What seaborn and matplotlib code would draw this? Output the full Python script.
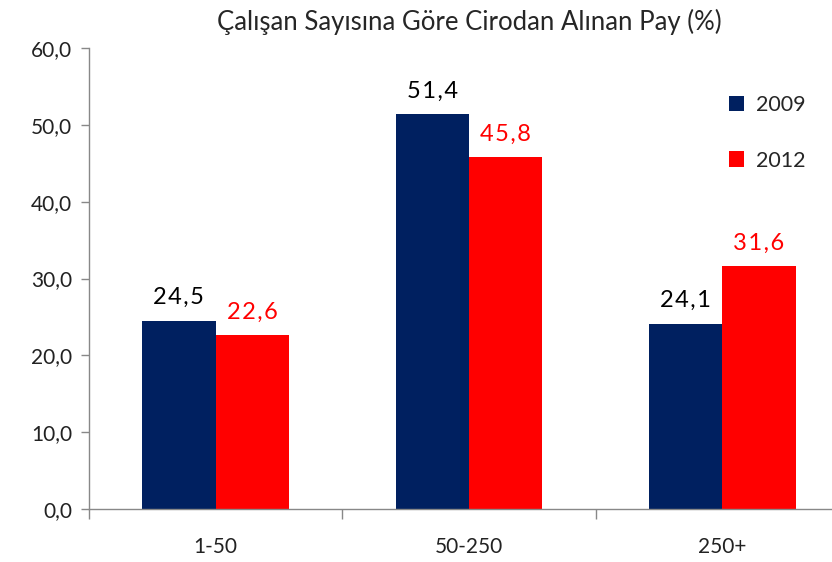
import pandas as pd
import matplotlib.pyplot as plt
import seaborn as sns
from matplotlib.ticker import FixedLocator

# data
categories = ['1-50', '50-250', '250+']
years = ['2009', '2012']
values_2009 = [24.5, 51.4, 24.1]
values_2012 = [22.6, 45.8, 31.6]

df = pd.DataFrame({
    'grup': categories * 2,
    'yil': [years[0]] * 3 + [years[1]] * 3,
    'pay': values_2009 + values_2012,
})

sns.set_style('white')
plt.rcParams['font.family'] = ['Lato', 'DejaVu Sans']

colors = {'2009': '#002060', '2012': '#FF0000'}
label_colors = {'2009': 'black', '2012': '#FF0000'}

fig = plt.figure(figsize=(8.32, 5.62), dpi=100)
ax = fig.add_axes([89 / 832, 53 / 562, 743 / 832, 461 / 562])

sns.barplot(data=df, x='grup', y='pay', hue='yil', palette=colors,
            width=0.58, saturation=1, linewidth=0, ax=ax, legend=True)

# value labels, slightly letter-spaced like the original
for cont, yr in zip(ax.containers, years):
    labels = ['\u200a'.join(f'{v:.1f}'.replace('.', ',')) for v in cont.datavalues]
    ax.bar_label(cont, labels=labels, padding=9, fontsize=17,
                 color=label_colors[yr])

ax.set_ylim(0, 60)
ax.set_xlim(-0.5, 2.5 - 17 / 253)
ax.set_yticks(range(0, 61, 10))
ax.set_yticklabels([f'{v},0' for v in range(0, 61, 10)], fontsize=15, color='#222222')
ax.tick_params(axis='y', length=6, width=1, color='#888888', direction='out', pad=6, left=True)
ax.tick_params(axis='x', which='major', length=0, labelsize=15, labelcolor='#222222', pad=20)
ax.xaxis.set_minor_locator(FixedLocator([-0.5, 0.5, 1.5, 2.5]))
ax.tick_params(axis='x', which='minor', length=7, width=1, color='#888888', direction='out', bottom=True)

for s in ['top', 'right']:
    ax.spines[s].set_visible(False)
for s in ['left', 'bottom']:
    ax.spines[s].set_color('#888888')
    ax.spines[s].set_linewidth(1)

ax.set_xlabel('')
ax.set_ylabel('')

leg = ax.legend(loc='upper right', bbox_to_anchor=(0.99, 0.94), frameon=False,
                fontsize=15.5, handlelength=0.7, handleheight=0.7,
                labelspacing=1.65, handletextpad=0.55)

fig.suptitle('Çalışan Sayısına Göre Cirodan Alınan Pay (%)', fontsize=18.5,
             x=469 / 832, y=0.985, va='top')

fig.savefig('out.png', dpi=100)
